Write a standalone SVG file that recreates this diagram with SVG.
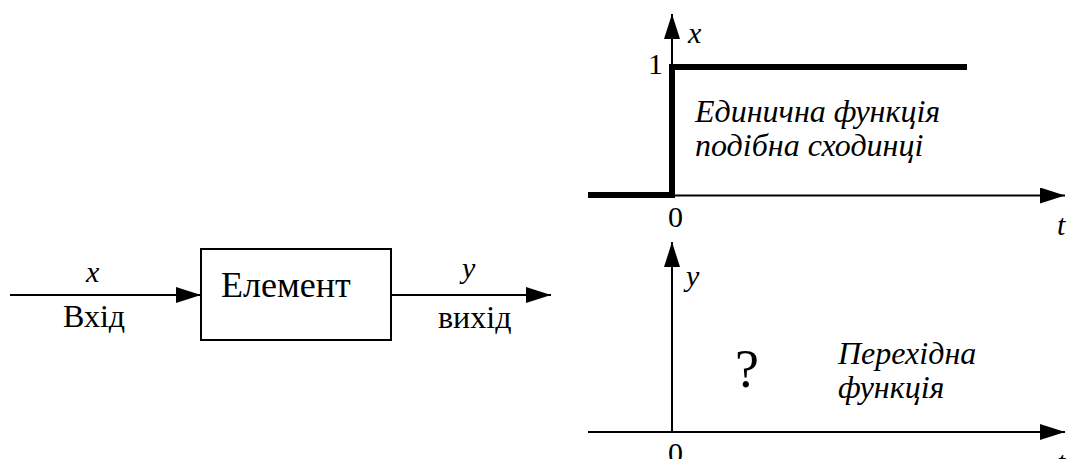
<svg xmlns="http://www.w3.org/2000/svg" width="1066" height="459" viewBox="0 0 1066 459">
<style>
.ln{stroke:#000;stroke-width:2;fill:none}
.tx{font-family:"Liberation Serif","Times New Roman",serif;fill:#000}
.it{font-style:italic}
</style>
<defs>
<marker id="ah" markerUnits="userSpaceOnUse" markerWidth="25" markerHeight="16" refX="25" refY="8" orient="auto">
<path d="M0,0 L25,8 L0,16 z" fill="#000"/>
</marker>
</defs>
<rect width="1066" height="459" fill="#fff"/>
<g id="connectors">
<line class="ln" x1="10" y1="295" x2="201" y2="295" marker-end="url(#ah)"/>
<line class="ln" x1="391" y1="295" x2="551" y2="295" marker-end="url(#ah)"/>
</g>
<g id="input-labels">
<text class="tx it" x="86" y="282" font-size="30">x</text>
<text class="tx" x="63" y="327" font-size="32">Вхід</text>
</g>
<g id="element">
<rect x="201" y="249" width="190" height="91" class="ln"/>
<text class="tx" x="221" y="297" font-size="36">Елемент</text>
</g>
<g id="output-labels">
<text class="tx it" x="462" y="278" font-size="30">y</text>
<text class="tx" x="438" y="328" font-size="32">вихід</text>
</g>
<g id="graph-step">
<line class="ln" x1="672" y1="195" x2="672" y2="14" marker-end="url(#ah)"/>
<line class="ln" x1="588" y1="195.5" x2="1065" y2="195.5" marker-end="url(#ah)"/>
<polyline points="588,195 672,195 672,67 967,67" fill="none" stroke="#000" stroke-width="6" stroke-linejoin="miter"/>
<text class="tx it" x="688" y="43" font-size="30">x</text>
<text class="tx" x="648" y="74" font-size="30">1</text>
<text class="tx" x="668" y="227" font-size="30">0</text>
<text class="tx it" x="1057" y="235" font-size="30">t</text>
<text class="tx it" x="695" y="122" font-size="32">Единична функція</text>
<text class="tx it" x="695" y="156" font-size="32">подібна сходинці</text>
</g>
<g id="graph-response">
<line class="ln" x1="672" y1="432" x2="672" y2="242" marker-end="url(#ah)"/>
<line class="ln" x1="588" y1="432" x2="1065" y2="432" marker-end="url(#ah)"/>
<text class="tx it" x="686" y="286" font-size="30">y</text>
<text class="tx" x="735" y="387" font-size="54">?</text>
<text class="tx it" x="838" y="364" font-size="32">Перехідна</text>
<text class="tx it" x="838" y="398" font-size="32">функція</text>
<text class="tx" x="668" y="463" font-size="30">0</text>
<text class="tx it" x="1057" y="472" font-size="30">t</text>
</g>
</svg>
